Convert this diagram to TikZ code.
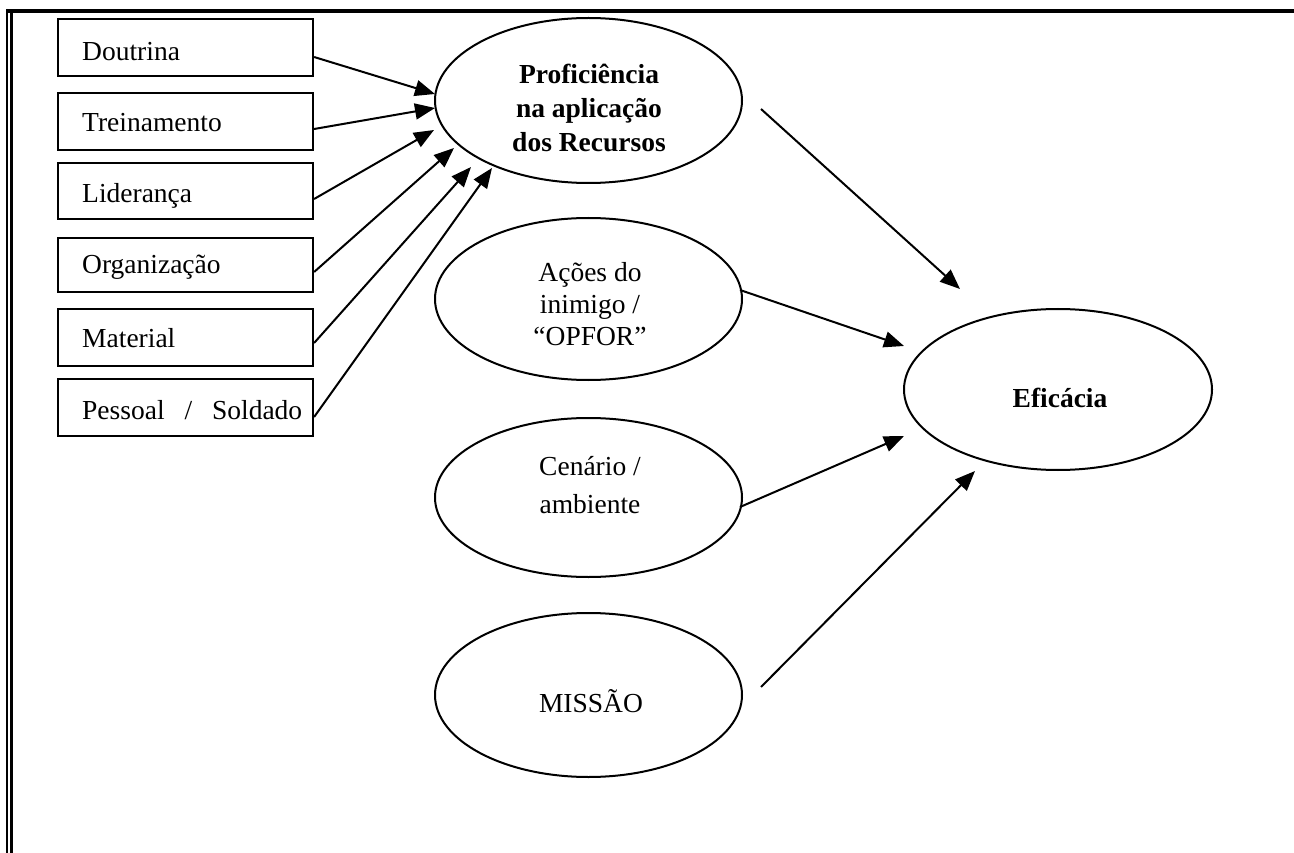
\documentclass[tikz,border=0pt]{standalone}
\usepackage{fontspec}
\setmainfont{Liberation Serif}
\usetikzlibrary{arrows.meta,calc,shapes.geometric}

\tikzset{
  factor/.style={draw, line width=2.2pt, rectangle, minimum width=255pt, inner sep=0pt},
  factortext/.style={anchor=base west, inner sep=0pt, font=\fontsize{27.5}{31.5}\selectfont},
  bubble/.style={draw, line width=2pt, ellipse, inner sep=0pt},
  bubbletext/.style={inner sep=0pt, align=center},
  link/.style={line width=2pt, -{Triangle[length=20pt,width=16pt]}},
}

\begin{document}
\begin{tikzpicture}[x=1pt, y=-1pt]
\useasboundingbox (0,0) rectangle (1294,853);

% page frame: heavy top rule and double rule on the left
\draw[line width=4.5pt] (6,11) -- (1294,11);
\draw[line width=2.3pt] (7,9) -- (7,853);
\draw[line width=2.3pt] (11.5,13) -- (11.5,853);

% resource factors
\node[factor, minimum height=57pt] (dout) at (185.5,47.5) {};
\node[factor, minimum height=57pt] (trei) at (185.5,121.5) {};
\node[factor, minimum height=56pt] (lide) at (185.5,191) {};
\node[factor, minimum height=54pt] (orga) at (185.5,265) {};
\node[factor, minimum height=57pt] (mate) at (185.5,337.5) {};
\node[factor, minimum height=57pt] (pess) at (185.5,407.5) {};

\node[factortext] (tdout) at (82,61) {Doutrina};
\node[factortext] (ttrei) at (82,132) {Treinamento};
\node[factortext] (tlide) at (82,203) {Liderança};
\node[factortext] (torga) at (82,273) {Organização};
\node[factortext] (tmate) at (82,348) {Material};
\node[factortext] (tpess) at (82,419) {Pessoal\hspace{13pt} /\hspace{13pt} Soldado};

% ellipses
\node[bubble, minimum width=307pt, minimum height=165pt] (prof) at (588.5,100.5) {};
\node[bubble, minimum width=307pt, minimum height=162pt] (acoes) at (588.5,299) {};
\node[bubble, minimum width=307pt, minimum height=159pt] (cena) at (588.5,497.5) {};
\node[bubble, minimum width=307pt, minimum height=164pt] (missao) at (588.5,695) {};
\node[bubble, minimum width=308pt, minimum height=161pt] (efic) at (1058,389.5) {};

\node[bubbletext, font=\bfseries\fontsize{27.5}{34.2}\selectfont] (tprof) at (589,108)
  {Proficiência\\na aplicação\\dos Recursos};
\node[bubbletext, font=\fontsize{27.5}{32}\selectfont] (tacoes) at (590,304)
  {Ações do\\inimigo /\\“OPFOR”};
\node[bubbletext, font=\fontsize{27.5}{38}\selectfont] (tcena) at (590,485.5)
  {Cenário /\\ambiente};
\node[bubbletext, anchor=base, font=\fontsize{27.5}{32}\selectfont] (tmissao) at (591,712) {MISSÃO};
\node[bubbletext, anchor=base, font=\bfseries\fontsize{27.5}{32}\selectfont] (tefic) at (1060,407) {Eficácia};

% factors feed proficiency
\draw[link] ($(dout.east)+(0,9.5)$) -- ($(prof.center)+(-153.5,-6.5)$);
\draw[link] ($(trei.east)+(0,7.5)$) -- ($(prof.center)+(-153.5,7.5)$);
\draw[link] ($(lide.east)+(0,8)$)   -- ($(prof.center)+(-154.5,29.5)$);
\draw[link] ($(orga.east)+(0,7)$)   -- ($(prof.center)+(-134.5,47.5)$);
\draw[link] ($(mate.east)+(0,5.5)$) -- ($(prof.center)+(-117.5,66.5)$);
\draw[link] ($(pess.east)+(0,9.5)$) -- ($(prof.center)+(-96.5,67.5)$);

% everything feeds effectiveness
\draw[link] ($(prof.center)+(172.5,8.5)$)    -- ($(efic.center)+(-98,-100.5)$);
\draw[link] ($(acoes.center)+(151.5,-9)$)    -- ($(efic.center)+(-154,-43.5)$);
\draw[link] ($(cena.center)+(151.5,9.5)$)    -- ($(efic.center)+(-154,46.5)$);
\draw[link] ($(missao.center)+(172.5,-8)$)   -- ($(efic.center)+(-83,81.5)$);
\end{tikzpicture}
\end{document}
